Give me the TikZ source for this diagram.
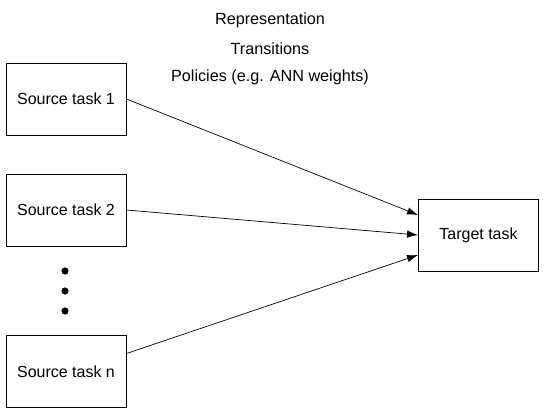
\documentclass[tikz,border=0pt]{standalone}
\usepackage{fontspec}
\setmainfont{Liberation Sans}
\usetikzlibrary{arrows.meta,positioning}

\begin{document}
\begin{tikzpicture}[x=1pt,y=-1pt,
  taskbox/.style={draw,line width=0.9pt,minimum width=120pt,minimum height=72pt,inner sep=0pt,font=\fontsize{16}{19}\selectfont},
  note/.style={font=\fontsize{16.2}{19}\selectfont},
  link/.style={line width=0.7pt,-{Latex[length=11pt,width=7.5pt]}}]
\useasboundingbox (0,0) rectangle (544,413);
\node[taskbox] (src1) at (66,99) {Source task 1};
\node[taskbox] (src2) at (66,210) {Source task 2};
\node[taskbox] (srcn) at (66,371.5) {Source task n};
\node[taskbox] (tgt) at (478.5,235) {Target task};
\node[note] (rep) at (270,20) {Representation};
\node[note] (trans) at (270,48.5) {Transitions};
\node[note] (pol) at (270,77.5) {Policies (e.g. ANN weights)};
\fill (65,271) circle (3.6);
\fill (65,291) circle (3.6);
\fill (65,311) circle (3.6);
\draw[link] (src1.east) -- ([yshift=20pt]tgt.west);
\draw[link] (src2.east) -- (tgt.west);
\draw[link] ([yshift=18pt]srcn.east) -- ([yshift=-20pt]tgt.west);
\end{tikzpicture}
\end{document}
